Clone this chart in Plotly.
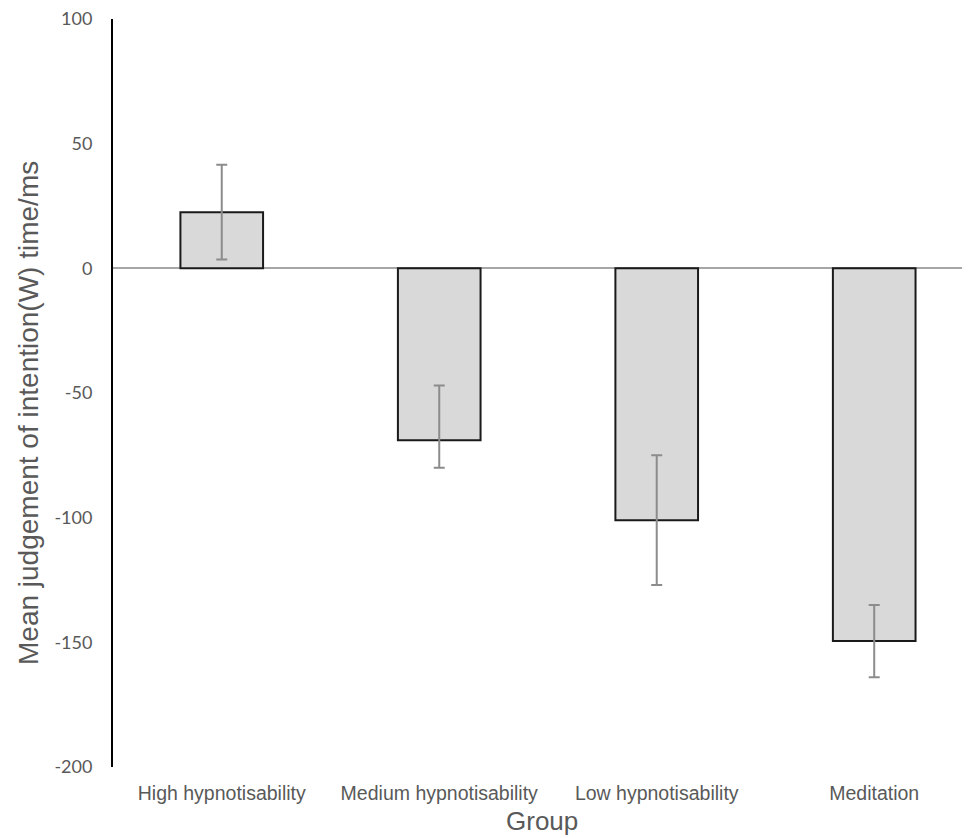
import plotly.graph_objects as go

groups = ["High hypnotisability", "Medium hypnotisability", "Low hypnotisability", "Meditation"]
means = [22.5, -69.0, -101.0, -149.5]
err_plus = [19.0, 22.0, 26.0, 14.5]
err_minus = [19.0, 11.0, 26.0, 14.5]
y_ticks = [-200, -150, -100, -50, 0, 50, 100]

fig = go.Figure()
fig.add_trace(go.Bar(
    x=list(range(len(groups))), y=means, width=0.38,
    marker=dict(color="#d9d9d9", line=dict(color="#1a1a1a", width=2)),
    error_y=dict(type="data", symmetric=False, array=err_plus, arrayminus=err_minus,
                 color="#8c8c8c", thickness=2, width=5.5),
    showlegend=False,
))

fig.update_layout(
    width=963, height=831,
    margin=dict(l=105, r=0, t=11, b=72),
    plot_bgcolor="white", paper_bgcolor="white",
    xaxis=dict(
        range=[-0.5, 3.445], tickmode="array", tickvals=list(range(len(groups))),
        ticktext=groups, showgrid=False, zeroline=False, showline=False,
        ticks="", tickfont=dict(family="Liberation Sans, Arial", size=19.5, color="#595959"),
        ticklabelstandoff=12, automargin=False,
    ),
    yaxis=dict(
        range=[-200, 100], tickmode="array", tickvals=y_ticks,
        ticktext=[str(v) for v in y_ticks], showgrid=False,
        zeroline=True, zerolinecolor="#a6a6a6", zerolinewidth=2,
        showline=True, linecolor="#000000", linewidth=2, ticks="",
        tickfont=dict(family="Lato, Liberation Sans", size=18, color="#595959"),
        ticklabelstandoff=15, automargin=False, ticklabeloverflow="allow",
    ),
    annotations=[
        dict(text="Group", xref="paper", yref="paper", x=0.5, y=-54/748,
             yanchor="middle", xanchor="center", showarrow=False,
             font=dict(family="Liberation Sans, Arial", size=26, color="#595959")),
        dict(text="Mean judgement of intention(W) time/ms", xref="paper", yref="paper",
             x=-85/858, y=(766-412)/748, xanchor="center", yanchor="middle",
             textangle=-90, showarrow=False,
             font=dict(family="Liberation Sans, Arial", size=28, color="#595959")),
    ],
)

fig.write_html("out.html")
